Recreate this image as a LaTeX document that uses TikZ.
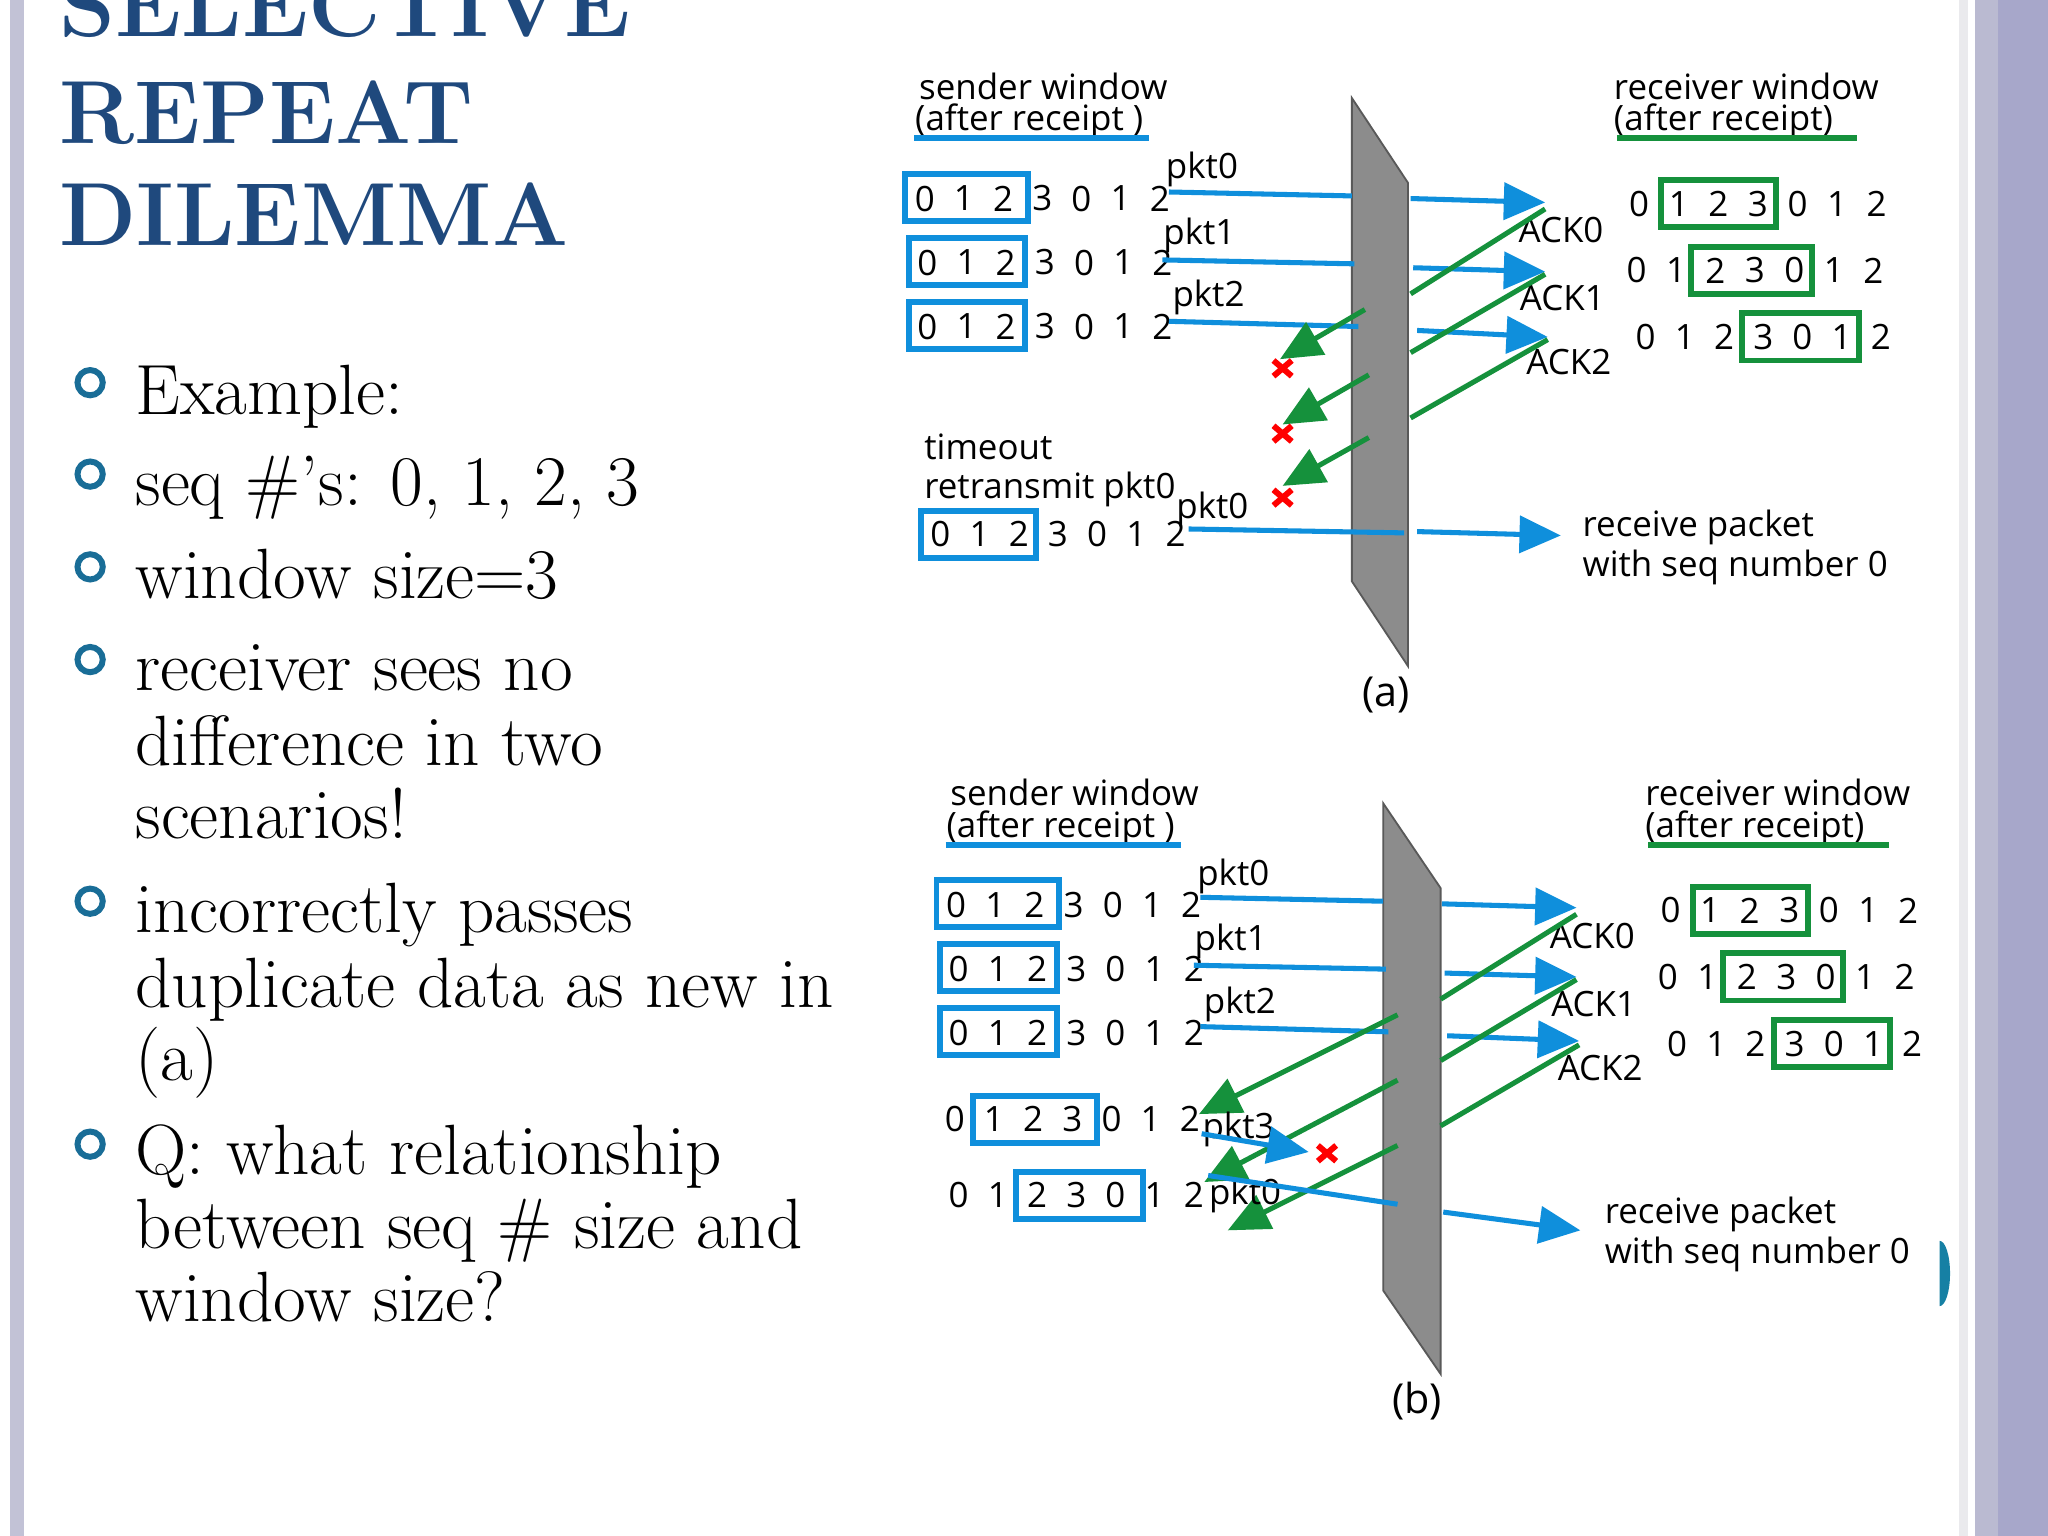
\documentclass[tikz,border=0pt]{standalone}
\usepackage{fontspec}
\newfontfamily\dg{Open Sans}
\usetikzlibrary{arrows.meta}
\definecolor{tb}{HTML}{1F497D}
\definecolor{bl}{HTML}{0F8FDC}
\definecolor{gr}{HTML}{15913C}
\tikzset{
 lab/.style={font=\dg\fontsize{7.6}{8.6}\selectfont,anchor=west,inner sep=0},
 dig/.style={font=\dg\fontsize{7.6}{8.6}\selectfont,inner sep=0},
 bbox/.style={draw=bl,line width=1.3pt},
 gbox/.style={draw=gr,line width=1.3pt},
 barr/.style={draw=bl,line width=1.1pt},
 garr/.style={draw=gr,line width=1.1pt},
 btip/.style={barr,-{Triangle[length=9pt,width=8pt]}},
 gtip/.style={garr,-{Triangle[length=9pt,width=8pt]}},
 wall/.style={fill=gray!90,draw=gray!70!black,line width=0.4pt},
 bul/.style={draw=tb!80!cyan,line width=1.3pt,circle,minimum size=5.5pt,inner sep=0},
 btxt/.style={font=\fontsize{15.5}{17}\selectfont,anchor=base west,inner sep=0},
 ttl/.style={font=\bfseries\fontsize{19.5}{22}\selectfont,text=tb,anchor=base west,inner sep=0},
 xm/.style={red,line width=1.3pt}
}
\newcommand\drow[4]{\foreach \d [count=\i from 0] in {#3}{\node[dig] at (#1+#4*\i,#2) {\d};}}
\newcommand\xmk[2]{\draw[xm] (#1-7,#2-6) -- (#1+7,#2+6) (#1-7,#2+6) -- (#1+7,#2-6);}
\begin{document}
\begin{tikzpicture}[x=0.01cm,y=-0.01cm]
\useasboundingbox (0,0) rectangle (1568,1176);
\fill[white] (0,0) rectangle (1568,1176);
\fill[blue!20!gray!40] (8,0) rectangle (18,1176);
\fill[blue!8!gray!15] (1500,0) rectangle (1507,1176);
\fill[blue!20!gray!45] (1512,0) rectangle (1530,1176);
\fill[blue!25!gray!55] (1530,0) rectangle (1568,1176);
\fill[tb!70!cyan] (1485,1000) arc (90:-90:8 and 25) -- cycle;
% title
\node[ttl] (t1) at (45,28) {SELECTIVE};
\node[ttl] (t2) at (45,110) {REPEAT};
\node[ttl] (t3) at (45,188) {DILEMMA};
% bullets
\foreach \y/\n in {293/a,363/b,434/c,505/d,690/e,876/f}{\node[bul] (b\n) at (69,\y) {};}
\node[btxt] at (103,317) {Example:};
\node[btxt] at (103,387) {seq \#’s: 0, 1, 2, 3};
\node[btxt] at (103,458) {window size=3};
\node[btxt] at (103,529) {receiver sees no};
\node[btxt] at (103,586) {difference in two};
\node[btxt] at (103,642) {scenarios!};
\node[btxt] at (103,714) {incorrectly passes};
\node[btxt] at (103,771) {duplicate data as new in};
\node[btxt] at (103,827) {(a)};
\node[btxt] at (103,899) {Q: what relationship};
\node[btxt] at (103,956) {between seq \# size and};
\node[btxt] at (103,1012) {window size?};
% ===== (a) and (b)
\foreach \dx/\dy/\cap in {0/0/a,24/541/b}{
\begin{scope}[shift={(\dx,\dy)}]
\node[lab] at (703,66) {sender window};
\node[lab] at (700,93) {(after receipt )};
\draw[bl,line width=1.3pt] (700,106) -- (880,106);
\node[lab] at (1235,66) {receiver window};
\node[lab] at (1235,93) {(after receipt)};
\draw[gr,line width=1.3pt] (1238,106) -- (1422,106);
\node[lab] at (892,130) {pkt0};
\node[lab] at (890,180) {pkt1};
\node[lab] at (897,228) {pkt2};
\node[lab] at (1162,176) {ACK0};
\node[lab] at (1163,228) {ACK1};
\node[lab] at (1168,277) {ACK2};
\node[dig,font=\dg\fontsize{9}{10}\selectfont] at (1061,532) {(\cap)};
\drow{708}{152}{0,1,2,3,0,1,2}{30}
\drow{710}{201}{0,1,2,3,0,1,2}{30}
\drow{710}{250}{0,1,2,3,0,1,2}{30}
\draw[bbox] (693,133) rectangle (787,169);
\draw[bbox] (696,182) rectangle (785,218);
\draw[bbox] (696,231) rectangle (785,267);
\drow{1255}{156}{0,1,2,3,0,1,2}{30.3}
\drow{1253}{207}{0,1,2,3,0,1,2}{30.2}
\drow{1260}{258}{0,1,2,3,0,1,2}{30}
\draw[gbox] (1272,138) rectangle (1360,174);
\draw[gbox] (1295,189) rectangle (1387,225);
\draw[gbox] (1334,240) rectangle (1423,276);
\end{scope}}
\node[lab,align=left] at (1211,419) {receive packet\\with seq number 0};
\node[lab,align=left] at (1228,945) {receive packet\\with seq number 0};
% (a) specifics
\draw[wall] (1035,75) -- (1078,140) -- (1078,510) -- (1035,445) -- cycle;
\draw[barr] (895,147) -- (1035,150); \draw[btip] (1080,152) -- (1183,155);
\draw[barr] (890,199) -- (1037,202); \draw[btip] (1082,205) -- (1183,208);
\draw[barr] (895,246) -- (1040,250); \draw[btip] (1085,253) -- (1185,258);
\draw[garr] (1183,160) -- (1080,225); \draw[gtip] (1045,237) -- (980,275);
\draw[garr] (1183,210) -- (1080,270); \draw[gtip] (1048,287) -- (982,325);
\draw[garr] (1185,260) -- (1080,320); \draw[gtip] (1048,335) -- (982,372);
\xmk{982}{282}\xmk{982}{332}\xmk{982}{381}
\node[lab,align=left] at (707,360) {timeout\\retransmit pkt0};
\node[lab] at (900,390) {pkt0};
\drow{720}{409}{0,1,2,3,0,1,2}{30}
\draw[bbox] (705,391) rectangle (793,427);
\draw[barr] (910,405) -- (1075,408); \draw[btip] (1085,407) -- (1195,410);
% (b) specifics
\draw[wall] (1059,615) -- (1103,680) -- (1103,1052) -- (1059,988) -- cycle;
\draw[barr] (919,687) -- (1059,690); \draw[btip] (1104,692) -- (1207,695);
\draw[barr] (914,739) -- (1061,742); \draw[btip] (1106,745) -- (1207,748);
\draw[barr] (919,786) -- (1063,790); \draw[btip] (1108,793) -- (1209,797);
\draw[garr] (1207,700) -- (1103,765); \draw[gtip] (1070,777) -- (918,853);
\draw[garr] (1207,750) -- (1103,812); \draw[gtip] (1070,827) -- (922,905);
\draw[garr] (1209,800) -- (1103,862); \draw[gtip] (1070,877) -- (940,942);
\drow{731}{857}{0,1,2,3,0,1,2}{30}
\draw[bbox] (745,839) rectangle (840,875);
\drow{734}{915}{0,1,2,3,0,1,2}{30}
\draw[bbox] (778,897) rectangle (875,933);
\node[lab] at (920,865) {pkt3};
\node[lab] at (925,915) {pkt0};
\draw[btip] (920,868) -- (1002,882);
\xmk{1016}{883}
\draw[barr] (925,900) -- (1070,922); \draw[btip] (1105,928) -- (1210,942);
\end{tikzpicture}
\end{document}
